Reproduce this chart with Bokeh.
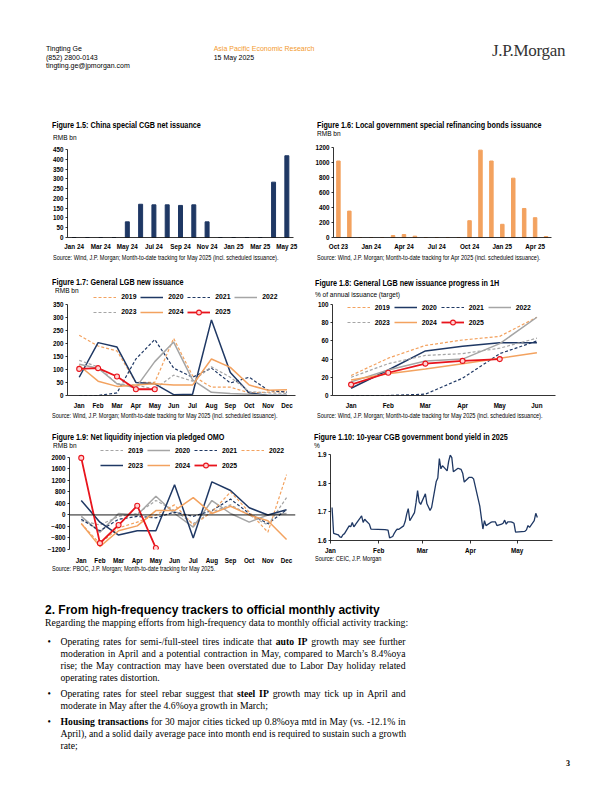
import pandas as pd
from bokeh.plotting import figure
from bokeh.models import (Range1d, FixedTicker, Legend, LegendItem, Span, Div, Spacer,
                          DatetimeTickFormatter)
from bokeh.layouts import column, row
from bokeh.embed import file_html
from bokeh.resources import INLINE

SANS = "Liberation Sans"
SERIF = "Liberation Serif"
NAVY = "#1F3864"
ORANGE = "#F3A25F"
GRAY = "#A5A5A5"
RED = "#E8141C"

# ---------------- data ----------------
cgb_months = ["Jan 24", "Feb 24", "Mar 24", "Apr 24", "May 24", "Jun 24", "Jul 24", "Aug 24", "Sep 24",
              "Oct 24", "Nov 24", "Dec 24", "Jan 25", "Feb 25", "Mar 25", "Apr 25", "May 25"]
cgb_net = [0, 0, 0, 0, 80, 170, 167, 167, 164, 167, 80, 0, 0, 0, 0, 283, 418]

refi_months = ["Oct 23", "Nov 23", "Dec 23", "Jan 24", "Feb 24", "Mar 24", "Apr 24", "May 24", "Jun 24",
               "Jul 24", "Aug 24", "Sep 24", "Oct 24", "Nov 24", "Dec 24", "Jan 25", "Feb 25", "Mar 25",
               "Apr 25", "May 25"]
refi_issuance = [1020, 352, 0, 0, 0, 26, 40, 18, 0, 0, 0, 0, 224, 1165, 1020, 176, 791, 387, 264, 13]

months = ["Jan", "Feb", "Mar", "Apr", "May", "Jun", "Jul", "Aug", "Sep", "Oct", "Nov", "Dec"]
years = ["2019", "2020", "2021", "2022", "2023", "2024", "2025"]

lgb_2019 = [231, 190, 171, 50, 50, 219, 76, 32, 32, 10, 13, 15]
lgb_2020 = [70, 203, 186, 50, 45, 3, 5, 290, 88, 10, 0, 0]
lgb_2021 = [0, 0, 10, 140, 215, 105, 70, 105, 48, 70, 20, 13]
lgb_2022 = [120, 105, 45, 30, 130, 205, 60, 12, 8, 5, 0, 0]
lgb_2023 = [135, 110, 45, 40, 25, 78, 55, 110, 70, 15, 10, 8]
lgb_2024 = [115, 55, 35, 40, 45, 40, 40, 140, 108, 40, 20, 22]
lgb_2025 = [102, 105, 73, 24, 24]

prog_months = ["Jan", "Feb", "Mar", "Apr", "May", "Jun"]
prog_2019 = [22, 41, 55, 61, 65, 86]
prog_2020 = [8, 28, 49, 54, 58, 58]
prog_2021 = [0, 0, 1.5, 19, 46, 60]
prog_2022 = [15, 28, 38, 40, 57, 86]
prog_2023 = [20, 35, 44, 46, 52, 63]
prog_2024 = [17, 24, 29, 35, 41, 47]
prog_2025 = [12, 25, 35, 38, 40]

omo_2019 = [-200, -350, -50, 50, 500, 150, -300, 100, 350, 0, -350, 600]
omo_2020 = [-50, -600, 50, 0, 650, 50, -420, 500, 50, -250, 0, 50]
omo_2021 = [-150, -550, -150, -50, -100, 100, -50, 150, 550, 50, -300, 180]
omo_2022 = [-300, -1000, -450, -250, 0, 350, -350, 100, 800, 100, -600, 1400]
omo_2023 = [500, -250, -700, -550, -550, 1050, -800, 1150, 850, 250, 0, 180]
omo_2024 = [-300, -1100, -550, -380, 150, 150, 600, 50, 300, 0, -200, -850]
omo_2025 = [1980, -980, -350, 320, -1150]

yield_dates = ["2025-01-02", "2025-01-03", "2025-01-06", "2025-01-07", "2025-01-08", "2025-01-09",
               "2025-01-10", "2025-01-13", "2025-01-14", "2025-01-15", "2025-01-16", "2025-01-17",
               "2025-01-20", "2025-01-21", "2025-01-22", "2025-01-23", "2025-01-24", "2025-01-26",
               "2025-01-27", "2025-02-05", "2025-02-06", "2025-02-07", "2025-02-08", "2025-02-10",
               "2025-02-11", "2025-02-12", "2025-02-13", "2025-02-14", "2025-02-17", "2025-02-18",
               "2025-02-19", "2025-02-20", "2025-02-21", "2025-02-24", "2025-02-25", "2025-02-26",
               "2025-02-27", "2025-02-28", "2025-03-03", "2025-03-04", "2025-03-05", "2025-03-06",
               "2025-03-07", "2025-03-10", "2025-03-11", "2025-03-12", "2025-03-13", "2025-03-14",
               "2025-03-17", "2025-03-18", "2025-03-19", "2025-03-20", "2025-03-21", "2025-03-24",
               "2025-03-25", "2025-03-26", "2025-03-27", "2025-03-28", "2025-03-31", "2025-04-01",
               "2025-04-02", "2025-04-03", "2025-04-07", "2025-04-08", "2025-04-09", "2025-04-10",
               "2025-04-11", "2025-04-14", "2025-04-15", "2025-04-16", "2025-04-17", "2025-04-18",
               "2025-04-21", "2025-04-22", "2025-04-23", "2025-04-24", "2025-04-25", "2025-04-27",
               "2025-04-28", "2025-04-29", "2025-04-30", "2025-05-06", "2025-05-07", "2025-05-08",
               "2025-05-09", "2025-05-12", "2025-05-13", "2025-05-14"]
yield_values = [1.715, 1.625, 1.620, 1.613, 1.611, 1.620,
                1.624, 1.651, 1.648, 1.663, 1.648, 1.655,
                1.678, 1.686, 1.663, 1.674, 1.668, 1.657,
                1.640, 1.638, 1.637, 1.636, 1.609, 1.614,
                1.625, 1.634, 1.640, 1.639, 1.651, 1.666,
                1.692, 1.711, 1.669, 1.697, 1.732, 1.774,
                1.735, 1.726, 1.763, 1.728, 1.717, 1.705,
                1.715, 1.806, 1.818, 1.886, 1.850, 1.861,
                1.843, 1.877, 1.898, 1.889, 1.840, 1.852,
                1.850, 1.848, 1.835, 1.804, 1.820, 1.820,
                1.820, 1.815, 1.720, 1.680, 1.640, 1.669,
                1.652, 1.663, 1.665, 1.665, 1.665, 1.652,
                1.657, 1.660, 1.671, 1.657, 1.665, 1.665,
                1.663, 1.660, 1.629, 1.632, 1.637, 1.652,
                1.646, 1.669, 1.695, 1.680]
yield_tick_months = ["2025-01-01", "2025-02-01", "2025-03-01", "2025-04-01", "2025-05-01"]


# ---------------- helpers ----------------
def make_fig(w, h, bl, br, bt, bb, x_range, y_range, **kw):
    p = figure(width=w, height=h, x_range=x_range, y_range=y_range, title=None,
               output_backend="svg", toolbar_location=None,
               min_border_left=bl, min_border_right=br, min_border_top=bt, min_border_bottom=bb, **kw)
    p.outline_line_color = None
    p.xgrid.visible = False
    p.ygrid.visible = False
    p.background_fill_color = "white"
    p.border_fill_color = "white"
    p.margin = (0, 0, 0, 0)
    return p


def style_axis(ax, tick_out=3, standoff=2, line=True, size="6.3px"):
    ax.axis_line_color = "black" if line else None
    ax.axis_line_width = 0.8
    ax.major_tick_line_color = "black" if tick_out else None
    ax.major_tick_line_width = 0.8
    ax.major_tick_in = 0
    ax.major_tick_out = tick_out
    ax.minor_tick_line_color = None
    ax.major_label_standoff = standoff
    ax.major_label_text_font = SANS
    ax.major_label_text_font_style = "bold"
    ax.major_label_text_font_size = size
    ax.major_label_text_color = "black"


def add_legend(p, items, x, y):
    leg = Legend(items=items, orientation="horizontal", ncols=4, location=(x, y),
                 glyph_width=23, glyph_height=12, label_height=12, label_width=16,
                 label_standoff=5, spacing=3, padding=0, margin=0,
                 border_line_alpha=0, background_fill_alpha=0,
                 label_text_font=SANS, label_text_font_style="bold",
                 label_text_font_size="6.8px", label_text_color="black")
    p.add_layout(leg)


def year_lines(p, series, styles):
    items = []
    for name, vals in series:
        color, dash = styles[name]
        xs = list(range(len(vals)))
        if name == "2025":
            r1 = p.line(xs, vals, line_color=color, line_width=1.8)
            r2 = p.scatter(xs, vals, marker="circle", size=5, line_color=color,
                           fill_color="#FFD3D3", line_width=1.1)
            items.append(LegendItem(label=name, renderers=[r1, r2]))
        else:
            r = p.line(xs, vals, line_color=color, line_dash=dash,
                       line_width=1.5 if dash == "solid" else 1.2)
            items.append(LegendItem(label=name, renderers=[r]))
    return items


def tdiv(left, top, html, font, size, weight="normal", color="#000", lh=None, extra=""):
    lh = lh or round(size * 1.2, 1)
    return (f'<div style="position:absolute;left:{left:.1f}px;top:{top:.1f}px;font-family:\'{font}\';'
            f'font-size:{size}px;font-weight:{weight};color:{color};line-height:{lh}px;'
            f'white-space:nowrap;{extra}">{html}</div>')


def ctext(x, yc, html, size, bold=False, sx=0.87):
    return tdiv(x, yc - 0.473 * size, html, SANS, size, weight="bold" if bold else "normal", lh=size,
                extra=f"transform:scaleX({sx});transform-origin:0 0;")


def box(w, h, inner):
    return Div(text=f'<div style="position:relative;width:{w}px;height:{h}px;">{inner}</div>',
               width=w, height=h, margin=(0, 0, 0, 0))


def cell(x0, y0, w, top_h, fig, bot_h, title, ty, sub, sx, sy, src, srcx, srcy):
    top = box(w, top_h, ctext(title[0] - x0, ty - y0, title[1], 8.3, bold=True)
              + ctext(sx - x0, sy - y0, sub, 7.5))
    ybot = y0 + top_h + fig.height
    bot = box(w, bot_h, ctext(srcx - x0, srcy - ybot, src, 6.4))
    return column(top, fig, bot, spacing=0)


# ---------------- Figure 1.5 ----------------
f15 = make_fig(265, 109, 27, 12, 6, 14, Range1d(-0.5, 16.5), Range1d(0, 450))
f15.vbar(x=list(range(len(cgb_net))), top=cgb_net, width=0.3, color=NAVY)
style_axis(f15.yaxis[0], tick_out=2, standoff=2)
style_axis(f15.xaxis[0], tick_out=0, standoff=5)
f15.yaxis[0].ticker = FixedTicker(ticks=list(range(0, 451, 50)))
f15.xaxis[0].ticker = FixedTicker(ticks=list(range(0, len(cgb_months), 2)))
f15.xaxis[0].major_label_overrides = {i: cgb_months[i] for i in range(0, len(cgb_months), 2)}
c15 = cell(40, 115, 265, 28, f15, 11, (51.7, "Figure 1.5: China special CGB net issuance"), 125,
           "RMB bn", 52.7, 137,
           "Source: Wind, J.P. Morgan; Month-to-date tracking for May 2025 (incl. scheduled issuance).",
           52.7, 256.7)

# ---------------- Figure 1.6 ----------------
f16 = make_fig(280, 110, 28, 34, 5, 14, Range1d(-0.45, 19.5), Range1d(0, 1200))
f16.vbar(x=list(range(len(refi_issuance))), top=refi_issuance, width=0.32, color=ORANGE)
style_axis(f16.yaxis[0], tick_out=2, standoff=2)
style_axis(f16.xaxis[0], tick_out=0, standoff=5)
f16.yaxis[0].ticker = FixedTicker(ticks=list(range(0, 1201, 200)))
f16.xaxis[0].ticker = FixedTicker(ticks=list(range(0, len(refi_months), 3)))
f16.xaxis[0].major_label_overrides = {i: refi_months[i] for i in range(0, len(refi_months), 3)}
c16 = cell(305, 115, 280, 27, f16, 11,
           (316.7, "Figure 1.6: Local government special refinancing bonds issuance"), 124.6,
           "RMB bn", 316.7, 133,
           "Source: Wind, J.P. Morgan; Month-to-date tracking for Apr 2025 (incl. scheduled issuance).",
           316.7, 256.7)

# ---------------- Figure 1.7 ----------------
lgb_styles = {"2019": (ORANGE, "3 2"), "2020": (NAVY, "solid"), "2021": (NAVY, "3 2"),
              "2022": (GRAY, "solid"), "2023": (GRAY, "3 2"), "2024": (ORANGE, "solid"),
              "2025": (RED, "solid")}
f17 = make_fig(265, 117, 27, 10, 0, 14, Range1d(-0.62, 11.45), Range1d(0, 350 * 103 / 93))
items17 = year_lines(f17, list(zip(years, [lgb_2019, lgb_2020, lgb_2021, lgb_2022, lgb_2023, lgb_2024,
                                           lgb_2025])), lgb_styles)
style_axis(f17.yaxis[0], tick_out=2, standoff=2)
style_axis(f17.xaxis[0], tick_out=0, standoff=6)
f17.yaxis[0].bounds = (0, 350)
f17.yaxis[0].ticker = FixedTicker(ticks=list(range(0, 351, 50)))
f17.xaxis[0].ticker = FixedTicker(ticks=list(range(len(months))))
f17.xaxis[0].major_label_overrides = {i: m for i, m in enumerate(months)}
add_legend(f17, items17, 26.3, 77.5)
c17 = cell(40, 263, 265, 31, f17, 13, (52.3, "Figure 1.7: General LGB new issuance"), 282.3,
           "RMB bn", 55, 290.7,
           "Source: Wind, J.P. Morgan; Month-to-date tracking for May 2025 (incl. scheduled issuance).",
           52.3, 415.7)

# ---------------- Figure 1.8 ----------------
f18 = make_fig(280, 112, 27, 30, 5, 15, Range1d(-0.5, 5.5), Range1d(0, 100))
items18 = year_lines(f18, list(zip(years, [prog_2019, prog_2020, prog_2021, prog_2022, prog_2023, prog_2024,
                                           prog_2025])), lgb_styles)
style_axis(f18.yaxis[0], tick_out=2, standoff=2)
style_axis(f18.xaxis[0], tick_out=0, standoff=6)
f18.yaxis[0].ticker = FixedTicker(ticks=list(range(0, 101, 20)))
f18.xaxis[0].ticker = FixedTicker(ticks=list(range(len(prog_months))))
f18.xaxis[0].major_label_overrides = {i: m for i, m in enumerate(prog_months)}
add_legend(f18, items18, 14.7, 66.7)
c18 = cell(305, 263, 280, 36, f18, 13, (315, "Figure 1.8: General LGB new issuance progress in 1H"), 282.7,
           "% of annual issuance (target)", 315, 294,
           "Source: Wind, J.P. Morgan; Month-to-date tracking for May 2025 (incl. scheduled issuance).",
           316.7, 415.7)

# ---------------- Figure 1.9 ----------------
omo_styles = {"2019": (GRAY, "3 2"), "2020": (GRAY, "solid"), "2021": (NAVY, "3 2"),
              "2022": (ORANGE, "3 2"), "2023": (NAVY, "solid"), "2024": (ORANGE, "solid"),
              "2025": (RED, "solid")}
f19 = make_fig(265, 118, 29, 10, 0, 15, Range1d(-0.63, 11.48), Range1d(-1200, -1200 + 3200 * 103 / 94))
f19.add_layout(Span(location=0, dimension="width", line_color="black", line_width=0.9))
items19 = year_lines(f19, list(zip(years, [omo_2019, omo_2020, omo_2021, omo_2022, omo_2023, omo_2024,
                                           omo_2025])), omo_styles)
style_axis(f19.yaxis[0], tick_out=2, standoff=2)
style_axis(f19.xaxis[0], tick_out=0, standoff=7, line=False)
f19.yaxis[0].bounds = (-1200, 2000)
f19.yaxis[0].ticker = FixedTicker(ticks=list(range(-1200, 2001, 400)))
f19.xaxis[0].ticker = FixedTicker(ticks=list(range(len(months))))
f19.xaxis[0].major_label_overrides = {i: m for i, m in enumerate(months)}
add_legend(f19, items19, 31, 78)
c19 = cell(40, 424, 265, 24, f19, 12, (52.3, "Figure 1.9: Net liquidity injection via pledged OMO"), 437,
           "RMB bn", 53.3, 445.4,
           "Source: PBOC, J.P. Morgan; Month-to-date tracking for May 2025.", 52.3, 569.3)

# ---------------- Figure 1.10 ----------------
ydates = pd.to_datetime(yield_dates)
f110 = make_fig(280, 107, 25, 33, 5, 14,
                Range1d(pd.Timestamp("2025-01-01"), pd.Timestamp("2025-05-23 18:00")), Range1d(1.6, 1.9),
                x_axis_type="datetime")
f110.line(ydates, yield_values, line_color=NAVY, line_width=1.3)
style_axis(f110.yaxis[0], tick_out=2, standoff=2)
style_axis(f110.xaxis[0], tick_out=3, standoff=3)
f110.yaxis[0].ticker = FixedTicker(ticks=[1.6, 1.7, 1.8, 1.9])
tick_ms = [int(pd.Timestamp(d).value // 10**6) for d in yield_tick_months]
f110.xaxis[0].ticker = FixedTicker(ticks=tick_ms)
f110.xaxis[0].formatter = DatetimeTickFormatter(days="%b", months="%b", years="%b", hours="%b",
                                                 hourmin="%b", minutes="%b", minsec="%b", seconds="%b",
                                                 milliseconds="%b", microseconds="%b", context=None)
c110 = cell(305, 424, 280, 25, f110, 22, (314.3, "Figure 1.10: 10-year CGB government bond yield in 2025"), 436.5,
            "%", 314.3, 445.4, "Source: CEIC, J.P. Morgan", 315, 559)

# ---------------- page texts ----------------
header_html = (tdiv(46, 45, "Tingting Ge", SANS, 7)
               + tdiv(46, 53.5, "(852) 2800-0143", SANS, 7)
               + tdiv(46, 62, "tingting.ge@jpmorgan.com", SANS, 7)
               + tdiv(213.7, 45, "Asia Pacific Economic Research", SANS, 7, color="#F39A2E")
               + tdiv(213.7, 53.5, "15 May 2025", SANS, 7)
               + tdiv(492, 41, "J.P.Morgan", SERIF, 17, color="#333333", lh=20,
                      extra="letter-spacing:-0.3px;"))
header = box(600, 115, header_html)

BODY = 9.7
J = "width:345px;text-align:justify;text-align-last:justify;"
body_html = (tdiv(45, 25, "2. From high-frequency trackers to official monthly activity", SANS, 12,
                  weight="bold", lh=14)
             + tdiv(45, 38.7, "Regarding the mapping efforts from high-frequency data to monthly official activity tracking:",
                    SERIF, BODY, lh=12)
             + tdiv(47.6, 57.7, "&#8226;", SERIF, BODY, lh=12)
             + tdiv(60.5, 57.7, "Operating rates for semi-/full-steel tires indicate that <b>auto IP</b> growth may see further",
                    SERIF, BODY, lh=12, extra=J)
             + tdiv(60.5, 69.8, "moderation in April and a potential contraction in May, compared to March&#8217;s 8.4%oya",
                    SERIF, BODY, lh=12, extra=J)
             + tdiv(60.5, 81.9, "rise; the May contraction may have been overstated due to Labor Day holiday related",
                    SERIF, BODY, lh=12, extra=J)
             + tdiv(60.5, 94, "operating rates distortion.", SERIF, BODY, lh=12)
             + tdiv(47.6, 110, "&#8226;", SERIF, BODY, lh=12)
             + tdiv(60.5, 110, "Operating rates for steel rebar suggest that <b>steel IP</b> growth may tick up in April and",
                    SERIF, BODY, lh=12, extra=J)
             + tdiv(60.5, 122.1, "moderate in May after the 4.6%oya growth in March;", SERIF, BODY, lh=12)
             + tdiv(47.6, 138, "&#8226;", SERIF, BODY, lh=12)
             + tdiv(60.5, 138, "<b>Housing transactions</b> for 30 major cities ticked up 0.8%oya mtd in May (vs. -12.1% in",
                    SERIF, BODY, lh=12, extra=J)
             + tdiv(60.5, 150.1, "April), and a solid daily average pace into month end is required to sustain such a growth",
                    SERIF, BODY, lh=12, extra=J)
             + tdiv(60.5, 162.2, "rate;", SERIF, BODY, lh=12)
             + tdiv(566, 181, "3", SERIF, 8, weight="bold", lh=10))
body = box(600, 206, body_html)


def sp(h):
    return Spacer(width=40, height=h, margin=(0, 0, 0, 0))


layout = column(header,
                row(sp(148), c15, c16, spacing=0),
                row(sp(161), c17, c18, spacing=0),
                row(sp(154), c19, c110, spacing=0),
                body, spacing=0)

open("out.html", "w").write(file_html(layout, INLINE))
